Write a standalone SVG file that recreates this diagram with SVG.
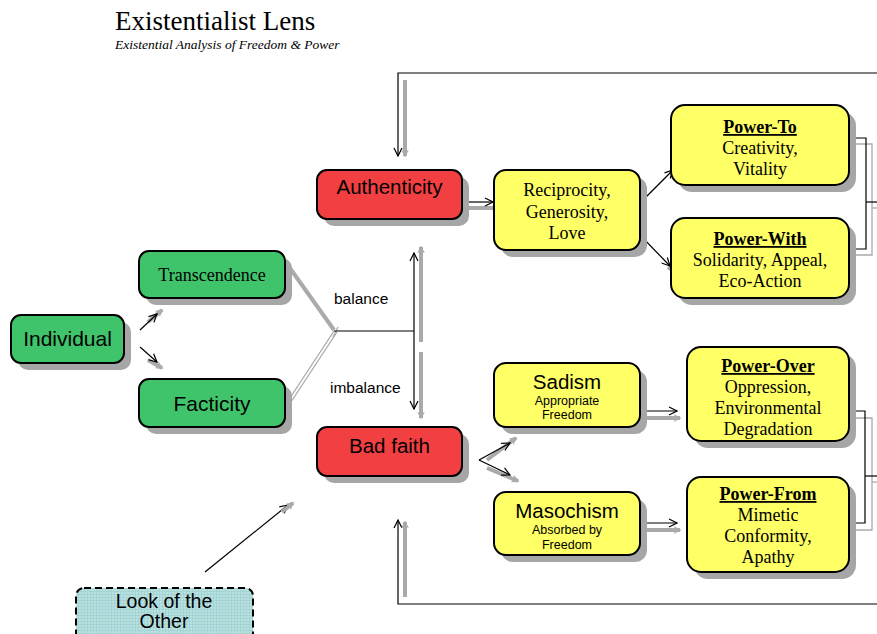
<svg xmlns="http://www.w3.org/2000/svg" width="877" height="634" viewBox="0 0 877 634">
<defs>
<marker id="ah" viewBox="0 0 10 10" refX="9" refY="5" markerWidth="10" markerHeight="10" markerUnits="userSpaceOnUse" orient="auto-start-reverse">
<path d="M1,1 L9,5 L1,9" fill="none" stroke="#000" stroke-width="1.2"/>
</marker>
<marker id="gh" viewBox="0 0 10 10" refX="8" refY="5" markerWidth="8" markerHeight="8" markerUnits="userSpaceOnUse" orient="auto-start-reverse">
<path d="M0,0 L10,5 L0,10 L3,5 Z" fill="#aaa"/>
</marker>
<pattern id="grid" width="3" height="3" patternUnits="userSpaceOnUse">
<rect width="3" height="3" fill="#b8e2e2"/>
<path d="M0,0.5 H3 M0.5,0 V3" stroke="#a2d2d2" stroke-width="0.8"/>
</pattern>
</defs>
<style>
.sh{fill:#a6a6a6}
.g{fill:#3fc46c;stroke:#000;stroke-width:2}
.r{fill:#f23f42;stroke:#000;stroke-width:2}
.y{fill:#ffff66;stroke:#000;stroke-width:2}
.c{fill:url(#grid);stroke:#000;stroke-width:2;stroke-dasharray:7,4}
.s{font-family:"Liberation Sans",Arial,sans-serif;fill:#000}
.t{font-family:"Liberation Serif","Times New Roman",serif;fill:#000}
.ln{stroke:#000;stroke-width:1.2;fill:none}
.gl{stroke:#aaa;stroke-width:4;fill:none}
.gt{stroke:#aaa;stroke-width:1.3;fill:none}
</style>
<text x="115" y="30" class="t" font-size="27">Existentialist Lens</text>
<text x="115" y="49" class="t" font-size="13.5" font-style="italic">Existential Analysis of Freedom &amp; Power</text>

<g id="connectors">
<!-- outer frame -->
<polyline class="ln" points="877,73 398,73 398,156" marker-end="url(#ah)"/>
<line class="gl" x1="405" y1="80" x2="405" y2="156" marker-end="url(#gh)"/>
<polyline class="ln" points="877,604 398,604 398,520" marker-end="url(#ah)"/>
<line class="gl" x1="405" y1="597" x2="405" y2="522" marker-end="url(#gh)"/>
<!-- individual -->
<line class="gl" x1="148" y1="322" x2="162" y2="310" marker-end="url(#gh)"/>
<line class="ln" x1="140" y1="330" x2="157" y2="314" marker-end="url(#ah)"/>
<line class="gl" x1="148" y1="360" x2="162" y2="368" marker-end="url(#gh)"/>
<line class="ln" x1="140" y1="347" x2="157" y2="362" marker-end="url(#ah)"/>
<!-- balance junction -->
<line class="gl" x1="287" y1="264" x2="334" y2="330" stroke-width="2"/>
<line class="gt" x1="286" y1="404" x2="334" y2="331"/>
<line class="gt" x1="289" y1="405" x2="337" y2="332"/>
<line class="gt" x1="333" y1="337" x2="338" y2="327" stroke-width="2"/>
<line class="ln" x1="334" y1="331" x2="414" y2="331"/>
<line class="gl" x1="421" y1="342" x2="421" y2="247" marker-end="url(#gh)"/>
<line class="gl" x1="421" y1="352" x2="421" y2="418" marker-end="url(#gh)"/>
<line class="ln" x1="414" y1="253" x2="414" y2="409" marker-start="url(#ah)" marker-end="url(#ah)"/>
<!-- authenticity -> reciprocity -->
<line class="gl" x1="464" y1="208" x2="500" y2="208" marker-end="url(#gh)"/>
<line class="ln" x1="462" y1="202" x2="493" y2="202" marker-end="url(#ah)"/>
<!-- reciprocity -> power to/with -->
<line class="gl" x1="670" y1="173" x2="679" y2="166" marker-end="url(#gh)"/>
<line class="ln" x1="640" y1="203" x2="673" y2="170" marker-end="url(#ah)"/>
<line class="gl" x1="668" y1="267" x2="677" y2="274" marker-end="url(#gh)"/>
<line class="ln" x1="640" y1="235" x2="670" y2="266" marker-end="url(#ah)"/>
<!-- bad faith -> sadism/masochism -->
<line class="gl" x1="487" y1="460" x2="516" y2="438" marker-end="url(#gh)"/>
<line class="ln" x1="479" y1="460" x2="510" y2="443" marker-end="url(#ah)"/>
<line class="gl" x1="487" y1="468" x2="518" y2="481" marker-end="url(#gh)"/>
<line class="ln" x1="479" y1="460" x2="510" y2="475" marker-end="url(#ah)"/>
<!-- sadism -> power over ; masochism -> power from -->
<line class="gl" x1="642" y1="418" x2="680" y2="418" marker-end="url(#gh)"/>
<line class="ln" x1="640" y1="411" x2="677" y2="411" marker-end="url(#ah)"/>
<line class="gl" x1="642" y1="530" x2="680" y2="530" marker-end="url(#gh)"/>
<line class="ln" x1="640" y1="523" x2="677" y2="523" marker-end="url(#ah)"/>
<!-- look of the other -->
<line class="ln" x1="205" y1="572" x2="288" y2="505" marker-end="url(#ah)"/>
<line class="gl" x1="282" y1="512" x2="293" y2="503" marker-end="url(#gh)"/>
<!-- right brackets -->
<polyline class="gt" points="856,144 872,144 872,255 856,255"/>
<line class="gt" x1="872" y1="208" x2="877" y2="208"/>
<polyline class="ln" points="849,138 866,138 866,249 849,249"/>
<line class="ln" x1="866" y1="202" x2="877" y2="202"/>
<polyline class="gt" points="856,418 872,418 872,530 856,530"/>
<line class="gt" x1="872" y1="482" x2="877" y2="482"/>
<polyline class="ln" points="849,411 865,411 865,523 849,523"/>
<line class="ln" x1="865" y1="476" x2="877" y2="476"/>
</g>

<g id="individual">
<rect class="sh" x="18" y="322" width="113" height="48" rx="10"/>
<rect class="g" x="11" y="315" width="113" height="48" rx="10"/>
<text x="67.5" y="346" class="s" font-size="21" text-anchor="middle">Individual</text>
</g>
<g id="transcendence">
<rect class="sh" x="146" y="258" width="146" height="47" rx="10"/>
<rect class="g" x="139" y="251" width="146" height="47" rx="10"/>
<text x="212" y="281" class="t" font-size="18" text-anchor="middle">Transcendence</text>
</g>
<g id="facticity">
<rect class="sh" x="146" y="386" width="146" height="48" rx="10"/>
<rect class="g" x="139" y="379" width="146" height="48" rx="10"/>
<text x="212" y="411" class="s" font-size="21" text-anchor="middle">Facticity</text>
</g>
<text x="334" y="304" class="s" font-size="15.5">balance</text>
<text x="330" y="393" class="s" font-size="15.5">imbalance</text>
<g id="authenticity">
<rect class="sh" x="324" y="177" width="145" height="49" rx="10"/>
<rect class="r" x="317" y="170" width="145" height="49" rx="10"/>
<text x="389.5" y="194" class="s" font-size="20.5" text-anchor="middle">Authenticity</text>
</g>
<g id="badfaith">
<rect class="sh" x="324" y="434" width="145" height="49" rx="10"/>
<rect class="r" x="317" y="427" width="145" height="49" rx="10"/>
<text x="389.5" y="453" class="s" font-size="20.5" text-anchor="middle">Bad faith</text>
</g>
<g id="reciprocity">
<rect class="sh" x="501" y="177" width="146" height="80" rx="12"/>
<rect class="y" x="494" y="170" width="146" height="80" rx="12"/>
<text class="t" font-size="18" text-anchor="middle"><tspan x="567" y="196">Reciprocity,</tspan><tspan x="567" y="218">Generosity,</tspan><tspan x="567" y="239">Love</tspan></text>
</g>
<g id="powerto">
<rect class="sh" x="678" y="112" width="178" height="80" rx="14"/>
<rect class="y" x="671" y="105" width="178" height="80" rx="14"/>
<text class="t" font-size="18" text-anchor="middle"><tspan x="760" y="133" font-weight="bold" text-decoration="underline">Power-To</tspan><tspan x="760" y="154">Creativity,</tspan><tspan x="760" y="175">Vitality</tspan></text>
</g>
<g id="powerwith">
<rect class="sh" x="678" y="225" width="178" height="80" rx="14"/>
<rect class="y" x="671" y="218" width="178" height="80" rx="14"/>
<text class="t" font-size="18" text-anchor="middle"><tspan x="760" y="245" font-weight="bold" text-decoration="underline">Power-With</tspan><tspan x="760" y="266">Solidarity, Appeal,</tspan><tspan x="760" y="287">Eco-Action</tspan></text>
</g>
<g id="sadism">
<rect class="sh" x="501" y="370" width="146" height="64" rx="12"/>
<rect class="y" x="494" y="363" width="146" height="64" rx="12"/>
<text x="567" y="389" class="s" font-size="20.5" text-anchor="middle">Sadism</text>
<text class="s" font-size="12.5" text-anchor="middle"><tspan x="567" y="405">Appropriate</tspan><tspan x="567" y="419">Freedom</tspan></text>
</g>
<g id="masochism">
<rect class="sh" x="501" y="499" width="146" height="63" rx="12"/>
<rect class="y" x="494" y="492" width="146" height="63" rx="12"/>
<text x="567" y="518" class="s" font-size="20.5" text-anchor="middle">Masochism</text>
<text class="s" font-size="12.5" text-anchor="middle"><tspan x="567" y="534">Absorbed by</tspan><tspan x="567" y="549">Freedom</tspan></text>
</g>
<g id="powerover">
<rect class="sh" x="694" y="354" width="162" height="94" rx="14"/>
<rect class="y" x="687" y="347" width="162" height="94" rx="14"/>
<text class="t" font-size="18" text-anchor="middle"><tspan x="768" y="372" font-weight="bold" text-decoration="underline">Power-Over</tspan><tspan x="768" y="393">Oppression,</tspan><tspan x="768" y="414">Environmental</tspan><tspan x="768" y="435">Degradation</tspan></text>
</g>
<g id="powerfrom">
<rect class="sh" x="694" y="484" width="162" height="95" rx="14"/>
<rect class="y" x="687" y="477" width="162" height="95" rx="14"/>
<text class="t" font-size="18" text-anchor="middle"><tspan x="768" y="500" font-weight="bold" text-decoration="underline">Power-From</tspan><tspan x="768" y="521">Mimetic</tspan><tspan x="768" y="542">Conformity,</tspan><tspan x="768" y="563">Apathy</tspan></text>
</g>
<g id="lookother">
<rect class="c" x="76" y="588" width="177" height="60" rx="8"/>
<text class="s" font-size="19.5" text-anchor="middle"><tspan x="164" y="608">Look of the</tspan><tspan x="164" y="628">Other</tspan></text>
</g>
</svg>
